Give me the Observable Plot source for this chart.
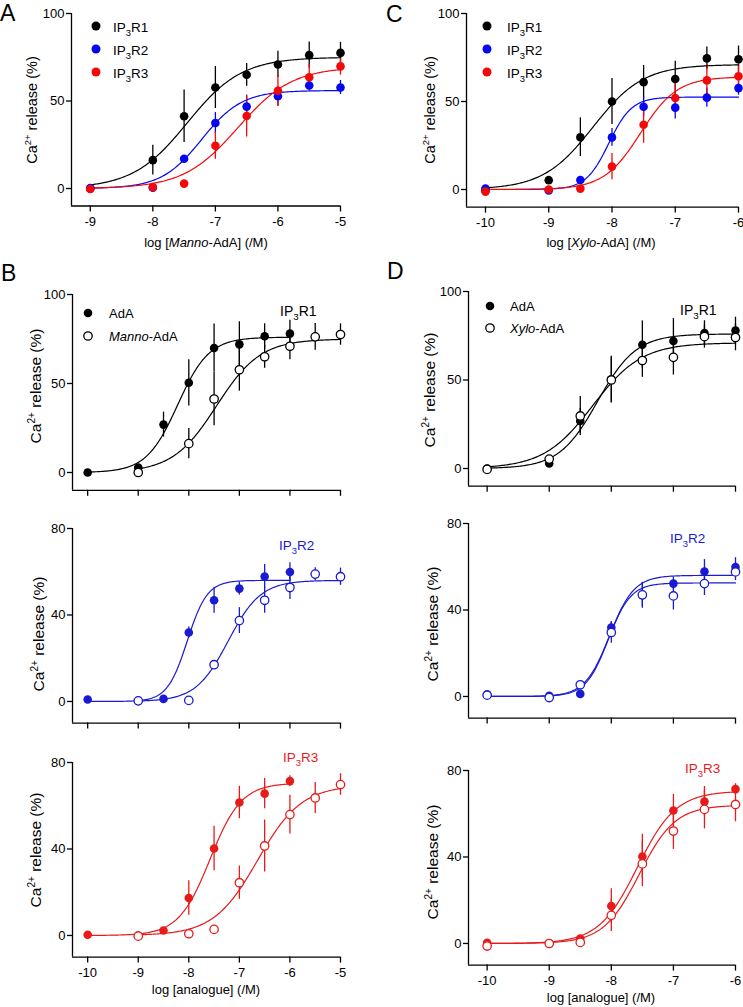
<!DOCTYPE html>
<html><head><meta charset="utf-8">
<script src="https://cdn.jsdelivr.net/npm/d3@7"></script>
<script src="https://cdn.jsdelivr.net/npm/@observablehq/plot@0.6"></script>
<style>
html,body{margin:0;padding:0;background:#fff;}
#fig{position:relative;width:743px;height:1007px;overflow:hidden;font-family:"Liberation Sans",Arial,Helvetica,sans-serif;}
#fig svg{position:absolute;overflow:visible;}
</style></head><body><div id="fig"></div>
<script>
// ---------- data (log concentration / M, Ca2+ release %) ----------
const logAdA   = [-10, -9, -8.5, -8, -7.5, -7, -6.5, -6];
const logManno = [-9, -8, -7.5, -7, -6.5, -6, -5.5, -5];
const logXylo  = [-10, -9, -8.5, -8, -7.5, -7, -6.5, -6];

const adaR1    = [0, 2.8, 26.9, 50.4, 69.9, 72, 76.5, 78];
const adaR1Err = [0, 0, 7, 13, 13.5, 12.7, 7, 7.5];
const adaR2    = [0.9, 0.3, 1.2, 31.9, 46.8, 52.2, 57.8, 59.9];
const adaR2Err = [0, 0, 0, 2.5, 6, 3, 5.5, 4.3];
const adaR3    = [0.3, 0, 2.3, 17.3, 40.2, 61.5, 65.6, 71.4];
const adaR3Err = [0, 0, 0, 8, 10.3, 7.5, 7, 2.5];

const mannoR1    = [0, 16.2, 41.3, 57.7, 65, 70.9, 76.2, 77.5];
const mannoR1Err = [0, 8.5, 15, 12, 6.5, 7.5, 7.5, 6];
const mannoR2    = [0.3, 0.5, 17, 37.4, 46.8, 52.7, 58.9, 57.7];
const mannoR2Err = [0, 0, 1, 6, 6, 5.5, 3, 4];
const mannoR3    = [-0.3, 0.8, 2.8, 24.4, 41.4, 55.9, 63.6, 69.8];
const mannoR3Err = [0, 0, 0, 7.7, 12, 9, 7.2, 5];

const xyloR1    = [-0.5, 5.3, 29.7, 50, 61, 62.8, 74.5, 74];
const xyloR1Err = [0, 0, 11, 13, 9.5, 10, 6.5, 7.5];
const xyloR2    = [0.6, -0.5, 5.4, 29.6, 47, 46.5, 52.2, 57.6];
const xyloR2Err = [0, 0, 1, 5, 5.5, 6.5, 5.5, 4];
const xyloR3    = [-1.2, 0, 0.5, 13, 36.8, 52, 62, 64.3];
const xyloR3Err = [0, 0, 0, 7.5, 10.5, 8.5, 9, 8];

// fitted Hill parameters: [top, logEC50, Hill slope]
const hillAdA   = [[76, -8.22, 1.4], [56, -8.03, 2.2], [70.5, -7.58, 1.4]];
const hillManno = [[75, -7.45, 1.0], [56, -7.22, 1.35], [69.5, -6.64, 1.0]];
const hillXylo  = [[71, -8.3, 1.1], [52.5, -8.05, 2.4], [64, -7.55, 1.5]];

const ticksAdA = [-10, -9, -8, -7, -6, -5];
const ticksManno = [-9, -8, -7, -6, -5];
const ticksXylo = [-10, -9, -8, -7, -6];
const yTicks100 = [0, 50, 100];
const yTicks80 = [0, 40, 80];

// ---------- helpers ----------
const K = "#000000", BLUE_A = "#0505f0", RED_A = "#f20a0a", BLUE_B = "#1a1ad2", RED_B = "#e81a1a";
const pts = (xs, ys, es) => xs.map((x, i) => ({x, y: ys[i], e: es[i]}));
function hill(p, lo, hi) {
  const out = [];
  for (let x = lo; x <= hi + 1e-9; x += 0.02) out.push({x, y: p[0] / (1 + Math.pow(10, p[2] * (p[1] - x)))});
  return out;
}
const fig = document.getElementById("fig");

function panel(c) {
  const marks = [
    Plot.ruleY([c.yDomain[0]], {stroke: K, strokeWidth: 1.3}),
    Plot.ruleX([c.xDomain[0]], {stroke: K, strokeWidth: 1.3}),
    Plot.axisX({ticks: c.xTicks, tickSize: 6, tickPadding: 5, tickFormat: d => String(d), fontSize: 13, label: null, strokeWidth: 1.3}),
    Plot.axisY({ticks: c.yTicks, tickSize: 5, tickPadding: 2, tickFormat: d => String(d), fontSize: 13, label: null, strokeWidth: 1.3})
  ];
  for (const L of c.layers) marks.push(Plot.ruleX(L.data.filter(d => d.e > 0), {x: "x", y1: d => d.y - d.e, y2: d => d.y + d.e, stroke: L.color, strokeWidth: 1.3}));
  for (const L of c.layers) marks.push(Plot.line(L.curve, {x: "x", y: "y", stroke: L.color, strokeWidth: 1.2}));
  for (const L of c.layers.filter(l => !l.open)) marks.push(Plot.dot(L.data, {x: "x", y: "y", r: 4.3, fill: L.color, stroke: "none"}));
  for (const L of c.layers.filter(l => l.open)) marks.push(Plot.dot(L.data, {x: "x", y: "y", r: 4.2, fill: "white", stroke: L.color, strokeWidth: 1.3}));
  const svg = Plot.plot({
    width: c.width, height: c.height,
    marginLeft: c.xl - c.left, marginRight: c.left + c.width - c.xr,
    marginTop: c.yt - c.top, marginBottom: c.top + c.height - c.yb,
    x: {domain: c.xDomain}, y: {domain: c.yDomain},
    style: {fontFamily: '"Liberation Sans", Arial, sans-serif', fontSize: "13px", color: "#000", background: "transparent", overflow: "visible"},
    marks
  });
  if (!c.xLabels) d3.select(svg).selectAll('g[aria-label="x-axis tick label"]').remove();
  svg.style.left = c.left + "px"; svg.style.top = c.top + "px";
  svg.style.maxWidth = "none";
  fig.appendChild(svg);
}

// ---------- panels ----------
panel({left: 0, top: 0, width: 372, height: 240, xl: 71, xr: 340, yt: 13, yb: 205.5,
  xDomain: [-9.3, -5], yDomain: [-10, 100], xTicks: ticksManno, yTicks: yTicks100, xLabels: true,
  layers: [
    {data: pts(logManno, mannoR1, mannoR1Err), curve: hill(hillManno[0], -9, -5), color: K},
    {data: pts(logManno, mannoR2, mannoR2Err), curve: hill(hillManno[1], -9, -5), color: BLUE_A},
    {data: pts(logManno, mannoR3, mannoR3Err), curve: hill(hillManno[2], -9, -5), color: RED_A}]});
panel({left: 372, top: 0, width: 371, height: 240, xl: 466, xr: 738, yt: 13, yb: 206.6,
  xDomain: [-10.3, -6], yDomain: [-10, 100], xTicks: ticksXylo, yTicks: yTicks100, xLabels: true,
  layers: [
    {data: pts(logXylo, xyloR1, xyloR1Err), curve: hill(hillXylo[0], -10, -6), color: K},
    {data: pts(logXylo, xyloR2, xyloR2Err), curve: hill(hillXylo[1], -10, -6), color: BLUE_A},
    {data: pts(logXylo, xyloR3, xyloR3Err), curve: hill(hillXylo[2], -10, -6), color: RED_A}]});

const bRows = [
  {top: 240, height: 260, yt: 294, yb: 489.8, yDomain: [-10, 100], yTicks: yTicks100, xLabels: false, color: K, i: 0,
   ada: [adaR1, adaR1Err], manno: [mannoR1, mannoR1Err]},
  {top: 500, height: 250, yt: 528, yb: 722.6, yDomain: [-10, 80], yTicks: yTicks80, xLabels: false, color: BLUE_B, i: 1,
   ada: [adaR2, adaR2Err], manno: [mannoR2, mannoR2Err]},
  {top: 750, height: 257, yt: 762, yb: 956.6, yDomain: [-10, 80], yTicks: yTicks80, xLabels: true, color: RED_B, i: 2,
   ada: [adaR3, adaR3Err], manno: [mannoR3, mannoR3Err]}];
for (const r of bRows) panel({left: 0, top: r.top, width: 372, height: r.height, xl: 72, xr: 340, yt: r.yt, yb: r.yb,
  xDomain: [-10.3, -5], yDomain: r.yDomain, xTicks: ticksAdA, yTicks: r.yTicks, xLabels: r.xLabels,
  layers: [
    {data: pts(logAdA, r.ada[0], r.ada[1]), curve: hill(hillAdA[r.i], -10, -6), color: r.color},
    {data: pts(logManno, r.manno[0], r.manno[1]), curve: hill(hillManno[r.i], -9, -5), color: r.color, open: true}]});

const dRows = [
  {top: 240, height: 260, yt: 291, yb: 485.7, yDomain: [-10, 100], yTicks: yTicks100, xLabels: false, color: K, i: 0,
   ada: [adaR1, adaR1Err], xylo: [xyloR1, xyloR1Err]},
  {top: 500, height: 250, yt: 523, yb: 717.6, yDomain: [-10, 80], yTicks: yTicks80, xLabels: false, color: BLUE_B, i: 1,
   ada: [adaR2, adaR2Err], xylo: [xyloR2, xyloR2Err]},
  {top: 750, height: 257, yt: 770, yb: 964.6, yDomain: [-10, 80], yTicks: yTicks80, xLabels: true, color: RED_B, i: 2,
   ada: [adaR3, adaR3Err], xylo: [xyloR3, xyloR3Err]}];
for (const r of dRows) panel({left: 372, top: r.top, width: 371, height: r.height, xl: 468, xr: 735, yt: r.yt, yb: r.yb,
  xDomain: [-10.3, -6], yDomain: r.yDomain, xTicks: ticksXylo, yTicks: r.yTicks, xLabels: r.xLabels,
  layers: [
    {data: pts(logAdA, r.ada[0], r.ada[1]), curve: hill(hillAdA[r.i], -10, -6), color: r.color},
    {data: pts(logXylo, r.xylo[0], r.xylo[1]), curve: hill(hillXylo[r.i], -10, -6), color: r.color, open: true}]});

// ---------- text overlay (labels, legends) ----------
const ov = d3.select(fig).append("svg").attr("width", 743).attr("height", 1007)
  .style("left", "0px").style("top", "0px").style("pointer-events", "none")
  .attr("font-family", '"Liberation Sans", Arial, sans-serif');

function txt(x, y, parts, o = {}) {
  const f = o.size || 13;
  const t = ov.append("text").attr("font-size", f).attr("fill", o.color || K)
    .attr("text-anchor", o.anchor || "start");
  if (o.rotate) t.attr("transform", `translate(${x},${y}) rotate(-90)`);
  else t.attr("x", x).attr("y", y);
  let shift = 0;
  for (const p of parts) {
    const [s, kind] = Array.isArray(p) ? p : [p, ""];
    const sp = t.append("tspan").text(s);
    let target = 0;
    if (kind === "sub") { sp.attr("font-size", f * 0.7); target = 0.3 * f; }
    if (kind === "sup") { sp.attr("font-size", f * 0.65); target = -0.42 * f; }
    if (kind === "i") sp.attr("font-style", "italic");
    if (target !== shift) { sp.attr("dy", target - shift); shift = target; }
  }
  return t;
}
const ip3 = n => ["IP", ["3", "sub"], "R" + n];
const caTitle = ["Ca", ["2+", "sup"], " release (%)"];

// panel letters
txt(0, 21, ["A"], {size: 23});
txt(386, 22, ["C"], {size: 23});
txt(1, 281, ["B"], {size: 23});
txt(387, 279, ["D"], {size: 23});

// y titles
[[37, 110, 14.5], [435, 110, 14.5], [41, 386, 15.5], [44, 634, 15.5], [41, 850, 15.5],
 [435, 390, 15.5], [438, 624, 15.5], [438, 862, 15.5]]
  .forEach(([x, y, s]) => txt(x, y, caTitle, {size: s, anchor: "middle", rotate: true}));

// x titles
txt(206, 247, ["log [", ["Manno", "i"], "-AdA] (/M)"], {anchor: "middle"});
txt(601, 247, ["log [", ["Xylo", "i"], "-AdA] (/M)"], {anchor: "middle"});
txt(206, 994, ["log [analogue] (/M)"], {anchor: "middle"});
txt(601, 1002, ["log [analogue] (/M)"], {anchor: "middle"});

// legends A and C
const legColors = [K, BLUE_A, RED_A];
[[96, 113], [487, 507]].forEach(([dx, tx]) => {
  [26, 49, 72].forEach((y, i) => {
    ov.append("circle").attr("cx", dx).attr("cy", y).attr("r", 4.5).attr("fill", legColors[i]);
    txt(tx, y + 5.5, ip3(i + 1), {size: 13.5});
  });
});
// legends B and D
[[88, 109, 313, 336, "Manno"], [490, 510, 306, 328, "Xylo"]].forEach(([dx, tx, y1, y2, nm]) => {
  ov.append("circle").attr("cx", dx).attr("cy", y1).attr("r", 4.3).attr("fill", K);
  ov.append("circle").attr("cx", dx).attr("cy", y2).attr("r", 4.2).attr("fill", "white").attr("stroke", K).attr("stroke-width", 1.3);
  txt(tx, y1 + 5, ["AdA"], {size: 13});
  txt(tx, y2 + 5, [[nm, "i"], "-AdA"], {size: 13});
});
// receptor labels
txt(280, 316, ip3(1), {size: 14});
txt(680, 315, ip3(1), {size: 14});
txt(279, 550, ip3(2), {size: 13.5, color: BLUE_B});
txt(670, 543, ip3(2), {size: 13.5, color: BLUE_B});
txt(283, 762, ip3(3), {size: 13.5, color: RED_B});
txt(685, 773, ip3(3), {size: 13.5, color: RED_B});
</script></body></html>
